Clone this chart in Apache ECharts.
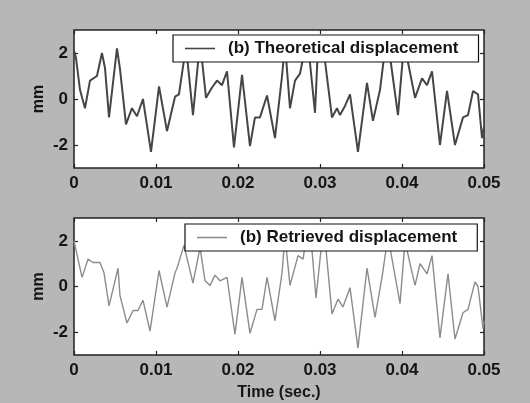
<!DOCTYPE html>
<html>
<head>
<meta charset="utf-8">
<script src="https://cdn.jsdelivr.net/npm/echarts@6/dist/echarts.min.js"></script>
<style>
  html, body { margin: 0; padding: 0; background: #b7b7b7; }
  #chart { width: 530px; height: 403px; }
</style>
</head>
<body>
<div id="chart"></div>
<script>
// time axis tick labels
var timeTicks = [0, 0.01, 0.02, 0.03, 0.04, 0.05];
var dispTicks = [-2, 0, 2];

// (b) theoretical displacement
var topTime = [0, 0.00024, 0.00073, 0.00134, 0.00195, 0.00280, 0.00341, 0.00378, 0.00427, 0.00524,
  0.00561, 0.00634, 0.00707, 0.00768, 0.00841, 0.00939, 0.01037, 0.01134, 0.01232, 0.01280,
  0.01366, 0.01451, 0.01537, 0.01610, 0.01683, 0.01744, 0.01805, 0.01866, 0.01951, 0.02049,
  0.02146, 0.02207, 0.02268, 0.02354, 0.02451, 0.02537, 0.02573, 0.02634, 0.02695, 0.02756,
  0.02817, 0.02866, 0.02939, 0.02976, 0.03024, 0.03049, 0.03146, 0.03207, 0.03244, 0.03305,
  0.03366, 0.03463, 0.03573, 0.03646, 0.03732, 0.03780, 0.03829, 0.03951, 0.04024, 0.04073,
  0.04159, 0.04244, 0.04305, 0.04366, 0.04463, 0.04549, 0.04646, 0.04744, 0.04805, 0.04866,
  0.04927, 0.04976, 0.05];
var topDisp = [2.1, 1.8, 0.4, -0.4, 0.8, 1.0, 2.0, 1.35, -0.8, 2.2,
  1.3, -1.1, -0.4, -0.75, 0.0, -2.3, 0.55, -1.4, 0.1, 0.2,
  2.3, -0.7, 2.5, 0.05, 0.5, 0.8, 0.6, 1.2, -2.1, 1.05,
  -2.05, -0.8, -0.8, 0.15, -1.7, 1.0, 2.4, -0.4, 0.8, 1.1,
  2.2, 2.0, -0.6, 2.3, 2.3, 2.0, -0.8, -0.4, -0.7, -0.3,
  0.2, -2.3, 0.7, -0.95, 0.4, 1.8, 2.5, -0.7, 2.4, 1.6,
  0.05, 0.9, 0.6, 1.2, -2.0, 0.35, -2.0, -0.8, -0.7, 0.35,
  0.2, -1.7, -1.2];

// (b) retrieved displacement
var botTime = [0, 0.00024, 0.00098, 0.00171, 0.00232, 0.00317, 0.00366, 0.00427, 0.00537, 0.00561,
  0.00646, 0.00720, 0.00780, 0.00841, 0.00927, 0.01037, 0.01134, 0.01232, 0.01256, 0.01341,
  0.01451, 0.01537, 0.01598, 0.01659, 0.01720, 0.01780, 0.01866, 0.01963, 0.02049, 0.02146,
  0.02232, 0.02293, 0.02354, 0.02451, 0.02537, 0.02573, 0.02634, 0.02732, 0.02793, 0.02841,
  0.02902, 0.02951, 0.03024, 0.03061, 0.03146, 0.03220, 0.03280, 0.03366, 0.03463, 0.03573,
  0.03671, 0.03756, 0.03829, 0.03976, 0.04037, 0.04098, 0.04159, 0.04220, 0.04305, 0.04366,
  0.04463, 0.04561, 0.04646, 0.04744, 0.04805, 0.04890, 0.04927, 0.04988, 0.05];
var botDisp = [2.0, 1.6, 0.4, 1.2, 1.05, 1.05, 0.6, -0.85, 0.8, -0.4,
  -1.6, -1.05, -1.05, -0.6, -1.95, 0.7, -0.9, 0.6, 0.8, 1.8,
  0.15, 1.7, 0.25, 0.05, 0.5, 0.25, 0.4, -2.1, 0.4, -2.05,
  -1.0, -1.0, 0.4, -1.5, 0.6, 2.2, 0.05, 1.35, 1.2, 2.3,
  1.6, -0.5, 2.0, 2.1, -1.2, -0.55, -0.9, -0.05, -2.7, 0.8,
  -1.35, 0.4, 2.2, -0.75, 2.0, 1.0, 0.05, 1.0, 0.55, 1.35,
  -2.25, 0.55, -2.3, -1.15, -1.0, 0.2, 0.0, -1.85, -1.5];

function pairs(t, v) {
  return t.map(function (x, i) { return [x, v[i]]; });
}

var font = 'Liberation Sans, Arial, sans-serif';
var ink = '#151515';

function xAx(grid, bottomOne) {
  return {
    type: 'value', gridIndex: grid, min: 0, max: 0.05, interval: 0.01,
    position: bottomOne ? 'bottom' : 'top',
    axisLine: { show: false, onZero: false },
    axisTick: { show: true, inside: true, length: 4, lineStyle: { color: '#222', width: 1.2 } },
    axisLabel: {
      show: bottomOne, margin: 7, color: ink, fontFamily: font, fontWeight: 'bold', fontSize: 17,
      customValues: timeTicks,
      formatter: function (v) { return v === 0 ? '0' : String(+v.toFixed(2)); }
    },
    splitLine: { show: false }
  };
}

function yAx(grid, leftOne) {
  return {
    type: 'value', gridIndex: grid, min: -3, max: 3,
    position: leftOne ? 'left' : 'right',
    name: leftOne ? 'mm' : '', nameLocation: 'middle', nameGap: 27, nameRotate: 90,
    nameMoveOverlap: false,
    nameTextStyle: { color: ink, fontFamily: font, fontWeight: 'bold', fontSize: 16 },
    axisLine: { show: false, onZero: false },
    axisTick: { show: true, inside: true, length: 4, customValues: dispTicks, lineStyle: { color: '#222', width: 1.2 } },
    axisLabel: {
      show: leftOne, margin: 6, color: ink, fontFamily: font, fontWeight: 'bold', fontSize: 17,
      customValues: dispTicks
    },
    splitLine: { show: false }
  };
}

var chart = echarts.init(document.getElementById('chart'), null, { renderer: 'canvas' });

var xBottom2 = xAx(1, true);
xBottom2.name = 'Time (sec.)';
xBottom2.nameLocation = 'middle';
xBottom2.nameGap = 30;
xBottom2.nameTextStyle = { color: ink, fontFamily: font, fontWeight: 'bold', fontSize: 16 };

var legendBase = {
  orient: 'horizontal',
  backgroundColor: '#fff',
  borderColor: '#111',
  borderWidth: 1.2,
  borderRadius: 0,
  icon: 'rect',
  itemWidth: 30,
  itemHeight: 1.6,
  itemGap: 0,
  textStyle: { color: ink, fontFamily: font, fontWeight: 'bold', fontSize: 17, padding: [0, 0, 0, 8] }
};

chart.setOption({
  backgroundColor: '#b7b7b7',
  animation: false,
  grid: [
    { left: 74, top: 30, width: 410, height: 138, show: true, backgroundColor: '#fff', borderColor: '#222', borderWidth: 1.5 },
    { left: 74, top: 218, width: 410, height: 137, show: true, backgroundColor: '#fff', borderColor: '#222', borderWidth: 1.5 }
  ],
  xAxis: [xAx(0, true), xAx(0, false), xBottom2, xAx(1, false)],
  yAxis: [yAx(0, true), yAx(0, false), yAx(1, true), yAx(1, false)],
  legend: [
    Object.assign({}, legendBase, { data: ['(b) Theoretical displacement'], left: 173, top: 35, padding: [5, 20, 5, 12] }),
    Object.assign({}, legendBase, { data: ['(b) Retrieved displacement'], left: 185, top: 224, padding: [5, 20, 5, 12] })
  ],
  series: [
    {
      name: '(b) Theoretical displacement', type: 'line', xAxisIndex: 0, yAxisIndex: 0,
      data: pairs(topTime, topDisp), symbol: 'none', smooth: false,
      lineStyle: { color: '#464646', width: 2 }, itemStyle: { color: '#464646' }
    },
    {
      name: '(b) Retrieved displacement', type: 'line', xAxisIndex: 2, yAxisIndex: 2,
      data: pairs(botTime, botDisp), symbol: 'none', smooth: false,
      lineStyle: { color: '#8c8c8c', width: 1.4 }, itemStyle: { color: '#8c8c8c' }
    }
  ]
});
</script>
</body>
</html>
